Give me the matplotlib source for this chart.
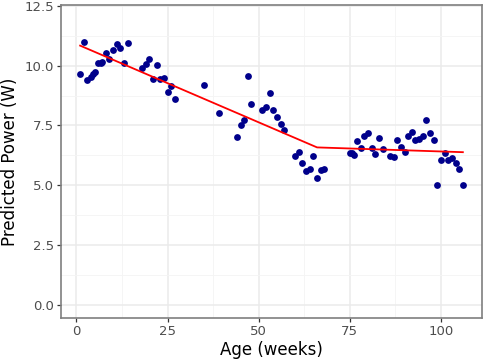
import numpy as np
import matplotlib
matplotlib.use("Agg")
import matplotlib.pyplot as plt
from matplotlib.ticker import MultipleLocator

# observed points (age in weeks, predicted power in W)
age = [1, 2, 3, 4, 4.5, 5, 6, 6.6, 7.1, 8, 9, 10, 11, 12, 13, 14,
       18, 19, 20, 21, 22, 23, 24, 25, 26, 27, 35, 39, 44, 45, 46, 47,
       48, 51, 52, 53, 54, 55, 56, 57, 60, 61, 62, 63, 64, 65, 66, 67, 68,
       75, 75.5, 76, 77, 78, 79, 80, 81, 82, 83, 84, 86, 87, 88, 89, 90,
       91, 92, 93, 94, 95, 96, 97, 98, 99, 100, 101, 102, 103, 104, 105, 106]
power = [9.66, 10.98, 9.41, 9.52, 9.65, 9.74, 10.11, 10.13, 10.16, 10.55, 10.27,
         10.67, 10.91, 10.73, 10.11, 10.94,
         9.89, 10.06, 10.30, 9.44, 10.03, 9.45, 9.50, 8.89, 9.13, 8.62, 9.19,
         8.03, 7.01, 7.50, 7.71, 9.55, 8.39, 8.13, 8.26, 8.86, 8.14, 7.85,
         7.56, 7.29, 6.21, 6.40, 5.92, 5.59, 5.69, 6.23, 5.31, 5.63, 5.67,
         6.33, 6.34, 6.26, 6.83, 6.55, 7.07, 7.18, 6.54, 6.32, 6.97, 6.52,
         6.23, 6.16, 6.87, 6.59, 6.40, 7.07, 7.21, 6.87, 6.93, 7.07, 7.72,
         7.17, 6.88, 4.99, 6.05, 6.33, 6.05, 6.13, 5.92, 5.69, 4.99]

# segmented fit
fit_age = [1, 66, 106]
fit_power = [10.84, 6.58, 6.38]

fig = plt.figure(figsize=(4.84, 3.62), dpi=100)
ax = fig.add_axes([61 / 484, 1 - 318 / 362, 421 / 484, 313 / 362])

ax.xaxis.set_major_locator(MultipleLocator(25))
ax.xaxis.set_minor_locator(MultipleLocator(12.5))
ax.yaxis.set_major_locator(MultipleLocator(2.5))
ax.yaxis.set_minor_locator(MultipleLocator(1.25))
ax.grid(True, which="major", color="#ebebeb", linewidth=1.1)
ax.grid(True, which="minor", color="#f4f4f4", linewidth=0.6)
ax.set_axisbelow(True)

ax.scatter(age, power, s=24, color="#00008b", zorder=3, linewidths=0)
ax.plot(fit_age, fit_power, color="red", linewidth=1.3, zorder=4)

ax.set_xlim(-4.25, 111.25)
ax.set_ylim(-0.56, 12.54)
ax.yaxis.set_major_formatter(matplotlib.ticker.FormatStrFormatter("%.1f"))

for s in ax.spines.values():
    s.set_color("#7f7f7f")
    s.set_linewidth(1.2)
ax.tick_params(which="major", length=3, width=0.9, color="#333333",
               labelsize=9.5, labelcolor="#4d4d4d", pad=2)
ax.tick_params(which="minor", length=0)

ax.set_xlabel("Age (weeks)", fontsize=12, labelpad=2)
ax.set_ylabel("Predicted Power (W)", fontsize=12, labelpad=4)

fig.savefig("out.png", dpi=100)
